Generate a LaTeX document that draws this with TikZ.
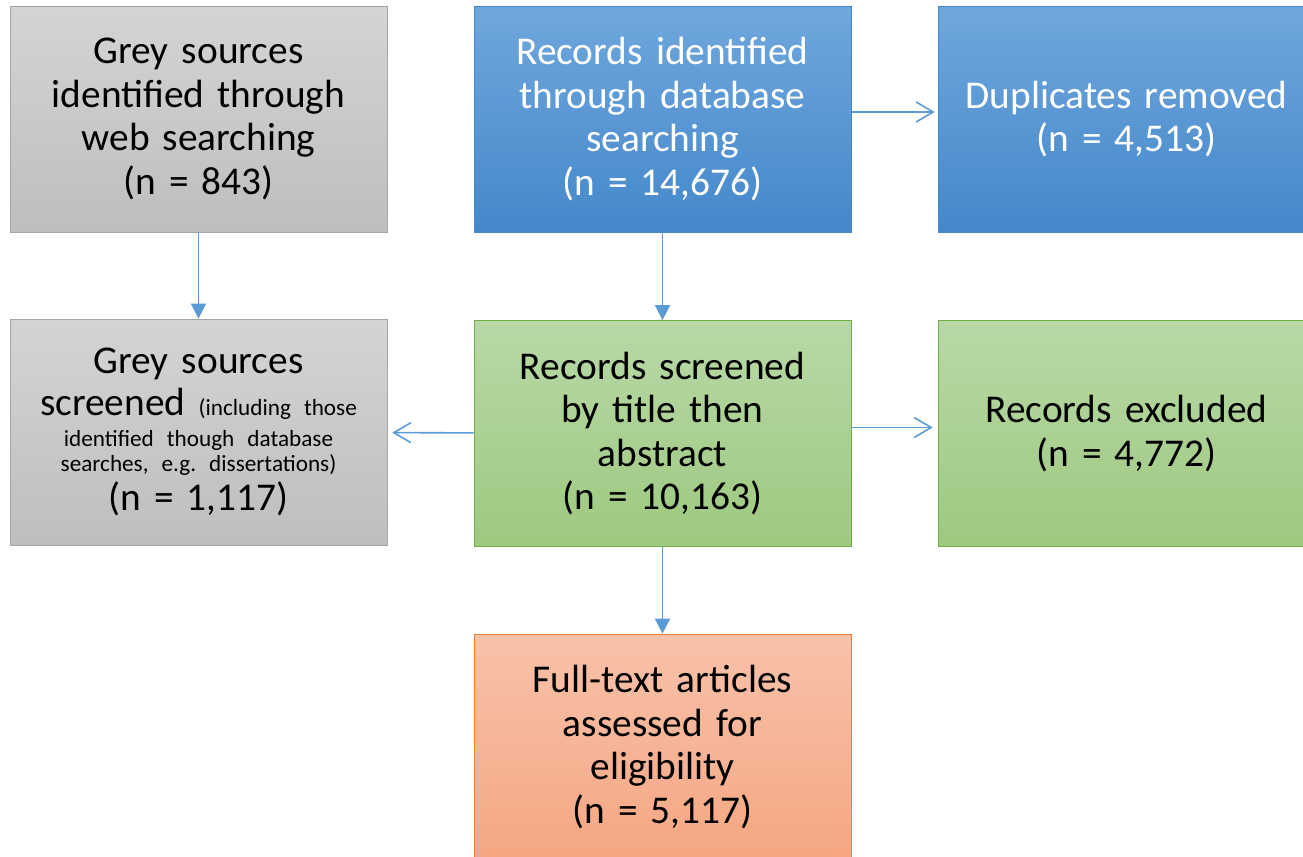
\documentclass[tikz,border=0pt]{standalone}
\usepackage{fontspec}
\setmainfont{Carlito}
\usetikzlibrary{arrows.meta}
\frenchspacing
\definecolor{linkblue}{RGB}{91,155,213}
\definecolor{greytop}{RGB}{212,212,212}
\definecolor{greybot}{RGB}{190,190,190}
\definecolor{greyline}{RGB}{165,165,165}
\definecolor{bluetop}{RGB}{112,167,221}
\definecolor{bluebot}{RGB}{68,136,202}
\definecolor{greentop}{RGB}{184,216,166}
\definecolor{greenbot}{RGB}{158,201,128}
\definecolor{greenline}{RGB}{112,173,71}
\definecolor{orangetop}{RGB}{248,194,170}
\definecolor{orangebot}{RGB}{245,166,130}
\definecolor{orangeline}{RGB}{237,125,49}
\tikzset{
  box/.style={rectangle, minimum width=7.54cm, minimum height=4.52cm, inner sep=0pt,
    align=center, text width=7.4cm, font=\fontsize{22.4}{24.7}\selectfont},
  greybox/.style={box, draw=greyline, top color=greytop, bottom color=greybot},
  bluebox/.style={box, draw=bluebot, top color=bluetop, bottom color=bluebot, text=white},
  greenbox/.style={box, draw=greenline, top color=greentop, bottom color=greenbot},
  orangebox/.style={box, draw=orangeline, top color=orangetop, bottom color=orangebot},
  down/.style={linkblue, line width=0.9pt, -{Triangle[length=0.3cm,width=0.3cm]}},
  side/.style={linkblue, line width=0.9pt, -{Straight Barb[length=0.34cm,width=0.4cm]}}
}
\newcommand{\smalltxt}[1]{\mbox{\fontsize{13.2}{15}\selectfont #1}}
\begin{document}
\begin{tikzpicture}[x=0.02cm,y=-0.02cm]
    \useasboundingbox[fill=white] (0,0) rectangle (1303,857);
    % top row
    \node[greybox] (webgrey) at (198.5,119) {Grey sources\\ identified through\\ web searching\\ (n = 843)};
    \node[bluebox] (dbrec) at (662.5,119) {Records identified\\ through database\\ searching\\ (n = 14,676)};
    \node[bluebox] (dupl) at (1126.5,119) {Duplicates removed\\ (n = 4,513)};
    % middle row
    \node[greybox] (scrgrey) at (198.5,432) {Grey sources\\[-0.9pt] \mbox{screened \smalltxt{(including those}}\\[-7.1pt]
      \smalltxt{identified though database}\\[-10pt] \smalltxt{searches, e.g. dissertations)}\\[-2.6pt] (n = 1,117)};
    \node[greenbox] (scrrec) at (662.5,433.5) {Records screened\\ by title then\\ abstract\\ (n = 10,163)};
    \node[greenbox] (excl) at (1126.5,433.5) {Records excluded\\ (n = 4,772)};
    % bottom
    \node[orangebox] (fulltext) at (662.5,747) {Full-text articles\\ assessed for\\ eligibility\\ (n = 5,117)};
    % links
    \draw[down] (webgrey) -- (scrgrey);
    \draw[down] (dbrec) -- (scrrec);
    \draw[down] (scrrec) -- (fulltext);
    \draw[side, shorten >=0.06cm] ([yshift=0.14cm]dbrec.east) -- ([yshift=0.14cm]dupl.west);
    \draw[side, shorten >=0.1cm] ([yshift=0.12cm]scrrec.east) -- ([yshift=0.12cm]excl.west);
    \draw[side, shorten >=0.1cm] (scrrec) -- (scrgrey);
\end{tikzpicture}
\end{document}
